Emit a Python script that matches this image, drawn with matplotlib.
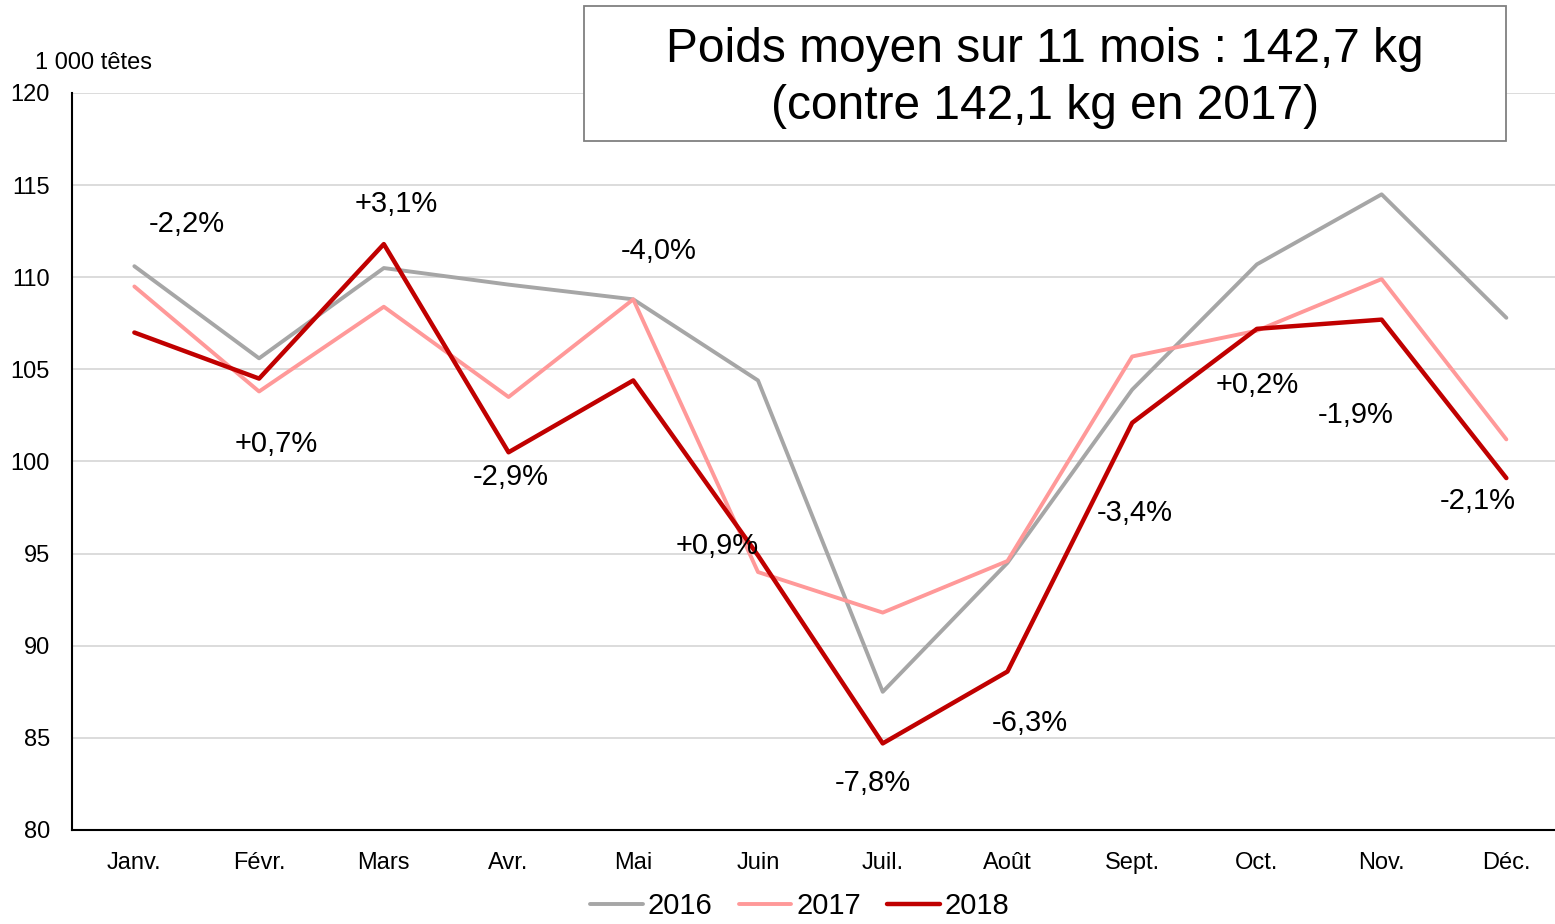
import matplotlib
matplotlib.use('Agg')
import matplotlib.pyplot as plt

plt.rcParams['font.family'] = ['Liberation Sans', 'DejaVu Sans']

# données (1 000 têtes)
mois = ['Janv.', 'Févr.', 'Mars', 'Avr.', 'Mai', 'Juin',
        'Juil.', 'Août', 'Sept.', 'Oct.', 'Nov.', 'Déc.']
v2016 = [110.6, 105.6, 110.5, 109.6, 108.8, 104.4,
         87.5, 94.5, 103.9, 110.7, 114.5, 107.8]
v2017 = [109.5, 103.8, 108.4, 103.5, 108.8, 94.0,
         91.8, 94.6, 105.7, 107.1, 109.9, 101.2]
v2018 = [107.0, 104.5, 111.8, 100.5, 104.4, 94.9,
         84.7, 88.6, 102.1, 107.2, 107.7, 99.1]
variations = ['-2,2%', '+0,7%', '+3,1%', '-2,9%', '-4,0%', '+0,9%',
              '-7,8%', '-6,3%', '-3,4%', '+0,2%', '-1,9%', '-2,1%']

# position des étiquettes (x décalé, y en valeur)
lab_dx = [0.42, 0.14, 0.1, 0.02, 0.2, -0.33, -0.08, 0.18, 0.02, 0.0, -0.21, -0.23]
lab_y = [112.9, 100.95, 114.0, 99.15, 111.4, 95.4, 82.55, 85.8, 97.2, 104.15, 102.55, 97.85]

fig = plt.figure(figsize=(15.55, 9.24), dpi=100)
ax = fig.add_axes([72/1555, 1 - 830/924, (1555-72)/1555, (830-93)/924])

x = range(len(mois))
ax.plot(x, v2016, color='#A6A6A6', lw=2.8, label='2016', solid_capstyle='round')
ax.plot(x, v2017, color='#FF9999', lw=2.8, label='2017', solid_capstyle='round')
ax.plot(x, v2018, color='#C00000', lw=3.2, label='2018', solid_capstyle='round')

for i, t in enumerate(variations):
    ax.text(i + lab_dx[i], lab_y[i], t, fontsize=21, ha='center', va='center')

ax.set_xlim(-0.5, 11.39)
ax.set_ylim(80, 120)
ax.set_yticks(range(80, 121, 5))
ax.set_xticks(list(x))
ax.set_xticklabels(mois, fontsize=17)
ax.tick_params(axis='y', labelsize=17, length=0, pad=16)
ax.tick_params(axis='x', length=0, pad=16)
ax.grid(axis='y', color='#D9D9D9', lw=1.3)
ax.set_axisbelow(True)
for s in ['top', 'right']:
    ax.spines[s].set_visible(False)
ax.spines['left'].set_linewidth(1.5)
ax.spines['bottom'].set_linewidth(1.5)

fig.text(35/1555, 1 - 63/924, '1 000 têtes', fontsize=17, va='center')

box = plt.Rectangle((584/1555, 1 - 141/924), (1506-584)/1555, 135/924,
                    transform=fig.transFigure, fc='white', ec='#808080', lw=1.3, zorder=3)
fig.add_artist(box)
fig.text(1045/1555, 1 - 78/924, 'Poids moyen sur 11 mois : 142,7 kg\n(contre 142,1 kg en 2017)',
         fontsize=34.5, ha='center', va='center', linespacing=1.36, zorder=4)

fig.legend(loc='center', bbox_to_anchor=(800/1555, 1 - 906/924), ncol=3, frameon=False,
           fontsize=21, handlelength=1.8, handletextpad=0.17, columnspacing=0.9)

fig.savefig('out.png', dpi=100)
